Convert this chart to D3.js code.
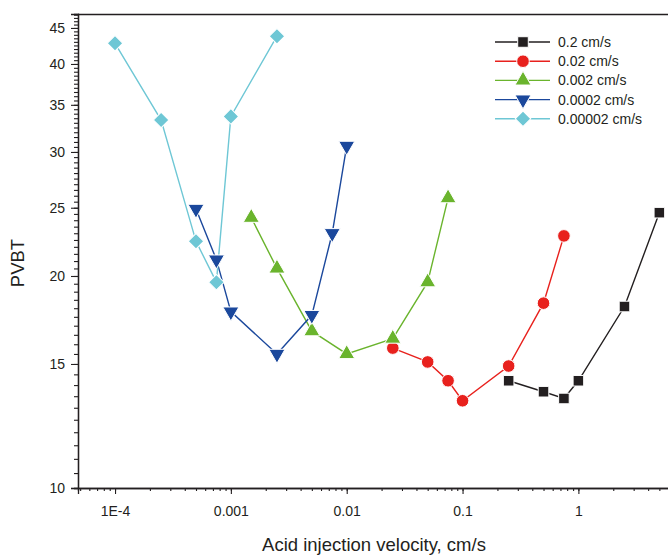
<!DOCTYPE html>
<html>
<head>
<meta charset="utf-8">
<script src="https://cdn.jsdelivr.net/npm/d3@7"></script>
<style>
  body { margin: 0; background: #fff; }
  svg { font-family: Arial, "Liberation Sans", sans-serif; }
</style>
</head>
<body>
<script>
// series, one per legend entry (velocity in cm/s, PVBT)
var seriesNames = ["0.2 cm/s", "0.02 cm/s", "0.002 cm/s", "0.0002 cm/s", "0.00002 cm/s"];
var seriesColors = ["#231f20", "#e8211d", "#6ab42d", "#1b489c", "#6ec7d5"];
var seriesShapes = ["square", "circle", "triangle", "triangleDown", "diamond"];

var x02 = [0.25, 0.5, 0.75, 1, 2.5, 5];
var y02 = [14.2, 13.7, 13.4, 14.2, 18.1, 24.6];

var x002 = [0.025, 0.05, 0.075, 0.1, 0.25, 0.5, 0.75];
var y002 = [15.8, 15.1, 14.2, 13.3, 14.9, 18.3, 22.8];

var x0002 = [0.0015, 0.0025, 0.005, 0.01, 0.025, 0.05, 0.075];
var y0002 = [24.2, 20.5, 16.7, 15.5, 16.3, 19.6, 25.8];

var x00002 = [0.0005, 0.00075, 0.001, 0.0025, 0.005, 0.0075, 0.01];
var y00002 = [24.9, 21.1, 17.8, 15.5, 17.6, 23.0, 30.6];

var x000002 = [0.0001, 0.00025, 0.0005, 0.00075, 0.001, 0.0025];
var y000002 = [42.8, 33.3, 22.4, 19.6, 33.7, 43.8];

var xTicks = [0.0001, 0.001, 0.01, 0.1, 1];
var xTickLabels = ["1E-4", "0.001", "0.01", "0.1", "1"];
var yTicks = [10, 15, 20, 25, 30, 35, 40, 45];

var xs = [x02, x002, x0002, x00002, x000002];
var ys = [y02, y002, y0002, y00002, y000002];

var series = seriesNames.map(function (name, i) {
    return {
        name: name,
        color: seriesColors[i],
        shape: seriesShapes[i],
        points: xs[i].map(function (v, j) { return { x: v, y: ys[i][j] }; })
    };
});

var W = 668, H = 557;
var margin = { top: 14, left: 78, bottom: 69 };

var svg = d3.select("body").append("svg")
    .attr("width", W)
    .attr("height", H);

var xScale = d3.scaleLog()
    .domain([4.79e-5, 7.1])
    .range([margin.left, 677]);

var yScale = d3.scaleLog()
    .domain([10, 47.1])
    .range([H - margin.bottom, margin.top]);

// minor ticks
var xMinor = [];
[-5, -4, -3, -2, -1, 0].forEach(function (e) {
    for (var k = 1; k <= 9; k++) {
        var v = k * Math.pow(10, e);
        if (v >= xScale.domain()[0] && v <= xScale.domain()[1]) xMinor.push(v);
    }
});
var yMinor = d3.range(10, 47.01, 0.5);

// frame: top line
svg.append("line")
    .attr("x1", margin.left).attr("x2", W)
    .attr("y1", margin.top + 0.5).attr("y2", margin.top + 0.5)
    .attr("stroke", "#231f20").attr("stroke-width", 1.3);

// x axis
var xAxisMinor = d3.axisBottom(xScale).tickValues(xMinor).tickSize(3).tickFormat("");
var xAxis = d3.axisBottom(xScale).tickValues(xTicks).tickSize(6).tickPadding(12)
    .tickFormat(function (d, i) { return xTickLabels[i]; });

svg.append("g")
    .attr("transform", "translate(0," + (H - margin.bottom) + ")")
    .call(xAxisMinor);
var gx = svg.append("g")
    .attr("transform", "translate(0," + (H - margin.bottom) + ")")
    .call(xAxis);
gx.selectAll("text").attr("font-size", 14).attr("fill", "#231f20");

// y axis
var yAxisMinor = d3.axisLeft(yScale).tickValues(yMinor).tickSize(4).tickFormat("");
var yAxis = d3.axisLeft(yScale).tickValues(yTicks).tickSize(7).tickPadding(6)
    .tickFormat(d3.format("d"));

svg.append("g")
    .attr("transform", "translate(" + margin.left + ",0)")
    .call(yAxisMinor);
var gy = svg.append("g")
    .attr("transform", "translate(" + margin.left + ",0)")
    .call(yAxis);
gy.selectAll("text").attr("font-size", 14).attr("fill", "#231f20");

svg.selectAll(".domain").attr("stroke", "#231f20").attr("stroke-width", 1.3);
svg.selectAll(".tick line").attr("stroke", "#231f20").attr("stroke-width", 1.1);

// axis titles
svg.append("text")
    .attr("x", 374).attr("y", 551)
    .attr("text-anchor", "middle")
    .attr("font-size", 18.5)
    .attr("fill", "#231f20")
    .text("Acid injection velocity, cm/s");

svg.append("text")
    .attr("transform", "translate(24,263) rotate(-90)")
    .attr("text-anchor", "middle")
    .attr("font-size", 18.5)
    .attr("fill", "#231f20")
    .text("PVBT");

// markers
function symbolFor(shape) {
    if (shape === "square") return d3.symbol().type(d3.symbolSquare).size(112);
    if (shape === "circle") return d3.symbol().type(d3.symbolCircle).size(125);
    if (shape === "triangle") return d3.symbol().type(d3.symbolTriangle).size(112);
    if (shape === "triangleDown") return d3.symbol().type(d3.symbolTriangle).size(112);
    return d3.symbol().type(d3.symbolSquare).size(120);
}
function markerTransform(shape, px, py) {
    if (shape === "triangleDown") return "translate(" + px + "," + py + ") rotate(180)";
    if (shape === "diamond") return "translate(" + px + "," + py + ") rotate(45)";
    return "translate(" + px + "," + py + ")";
}

var line = d3.line()
    .x(function (d) { return xScale(d.x); })
    .y(function (d) { return yScale(d.y); });

series.forEach(function (s) {
    svg.append("path")
        .datum(s.points)
        .attr("fill", "none")
        .attr("stroke", s.color)
        .attr("stroke-width", 1.4)
        .attr("d", line);
});

series.forEach(function (s) {
    svg.selectAll(null)
        .data(s.points)
        .enter().append("path")
        .attr("d", symbolFor(s.shape)())
        .attr("transform", function (d) { return markerTransform(s.shape, xScale(d.x), yScale(d.y)); })
        .attr("fill", s.color)
        .attr("stroke", "#fff")
        .attr("stroke-width", 1);
});

// legend
var legend = svg.append("g").attr("transform", "translate(495,42)");
series.forEach(function (s, i) {
    var g = legend.append("g").attr("transform", "translate(0," + (i * 19.2) + ")");
    g.append("line")
        .attr("x1", 0).attr("x2", 55)
        .attr("stroke", s.color).attr("stroke-width", 1.4);
    g.append("path")
        .attr("d", symbolFor(s.shape)())
        .attr("transform", markerTransform(s.shape, 28, 0))
        .attr("fill", s.color)
        .attr("stroke", "#fff")
        .attr("stroke-width", 1);
    g.append("text")
        .attr("x", 63).attr("y", 5)
        .attr("font-size", 14)
        .attr("fill", "#231f20")
        .text(s.name);
});
</script>
</body>
</html>
